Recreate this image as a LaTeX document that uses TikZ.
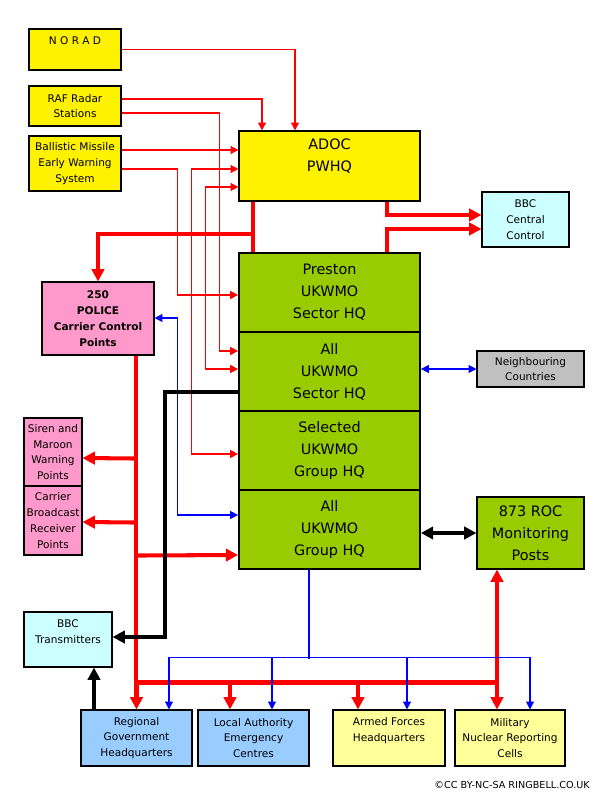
\documentclass[tikz,border=0pt]{standalone}
\usepackage{fontspec}
\setmainfont{DejaVu Sans}
\usetikzlibrary{calc,arrows.meta}

\begin{document}
\begin{tikzpicture}[x=0.02cm,y=-0.02cm]

% ---------- styles ----------
\tikzset{
  small/.style={align=center,font=\fontsize{6}{9}\selectfont},
  box/.style 2 args={draw=black,line width=0.6pt,inner sep=0pt,small,
    minimum width=#1*0.02cm,minimum height=#2*0.02cm},
  big/.style={align=center,font=\fontsize{8.2}{12.5}\selectfont},
  stack/.style={box={181}{79},big,fill=grn,line width=1pt},
  thinred/.style={draw=red,line width=0.7pt,-{Triangle[length=4.5pt,width=4.5pt]}},
  thinblue/.style={draw=blue,line width=0.7pt,-{Triangle[length=4.5pt,width=4.5pt]}},
  thickred/.style={draw=red,line width=2.3pt,-{Triangle[length=7pt,width=7pt]}},
  thickblack/.style={draw=black,line width=2.3pt,-{Triangle[length=7pt,width=7pt]}},
  plain/.style={arrows=-}
}
\definecolor{grn}{HTML}{99CC00}
\definecolor{pnk}{HTML}{FF99CC}
\definecolor{cyn}{HTML}{CCFFFF}
\definecolor{gry}{HTML}{C0C0C0}
\definecolor{blu}{HTML}{99CCFF}
\definecolor{pyl}{HTML}{FFFF99}

\useasboundingbox (0,0) rectangle (600,800);

% ---------- sources ----------
\node[box={92}{41},fill=yellow] (NORAD) at (75,49.5) {};
\node[anchor=north,small] (noradtxt) at ($(NORAD.north)+(0,2)$) {N O R A D};
\node[box={92}{40},fill=yellow] (RAF) at (75,106) {RAF Radar\\Stations};
\node[box={92}{55},fill=yellow] (BMEWS) at (75,163.5) {Ballistic Missile\\Early Warning\\System};

% ---------- centre column ----------
\node[box={181}{70},fill=yellow] (ADOC) at (329.5,166) {};
\node[anchor=north,big] (adoctxt) at ($(ADOC.north)+(0,2)$) {ADOC\\PWHQ};
\node[stack] (Preston) at (329.5,292.5) {Preston\\UKWMO\\Sector HQ};
\node[stack] (AllSec)  at (329.5,371.5) {All\\UKWMO\\Sector HQ};
\node[stack] (SelGrp)  at (329.5,450.5) {Selected\\UKWMO\\Group HQ};
\node[stack] (AllGrp)  at (329.5,529.5) {All\\UKWMO\\Group HQ};

% ---------- right ----------
\node[box={87}{55},fill=cyn] (BBCC) at (525.5,219.5) {BBC\\Central\\Control};
\node[box={107}{36},fill=gry] (Neigh) at (530.5,369) {Neighbouring\\Countries};
\node[box={107}{72},fill=grn,big] (ROC) at (530.5,533) {873 ROC\\Monitoring\\Posts};

% ---------- left ----------
\node[box={112}{73},fill=pnk,font=\fontsize{6}{9}\selectfont\bfseries] (Police) at (98,318.5) {250\\POLICE\\Carrier Control\\Points};
\node[box={58}{68},fill=pnk] (Siren) at (53,452) {Siren and\\Maroon\\Warning\\Points};
\node[box={58}{69},fill=pnk] (Carrier) at (53,520.5) {Carrier\\Broadcast\\Receiver\\Points};
\node[box={88}{55},fill=cyn] (BBCT) at (68,639.5) {};
\node[anchor=north,small] (bbcttxt) at ($(BBCT.north)+(0,2)$) {BBC\\Transmitters};

% ---------- bottom ----------
\node[box={111}{56},fill=blu] (Regional) at (136.5,738) {Regional\\Government\\Headquarters};
\node[box={111}{56},fill=blu] (Local) at (253.5,738) {Local Authority\\Emergency\\Centres};
\node[box={112}{56},fill=pyl] (Armed) at (389,738) {};
\node[anchor=north,small] (armedtxt) at ($(Armed.north)+(0,2)$) {Armed Forces\\Headquarters};
\node[box={110}{56},fill=pyl] (Military) at (510,738) {Military\\Nuclear Reporting\\Cells};

\node[anchor=south east,font=\fontsize{5.5}{7}\selectfont] (copy) at (596,795) {©CC BY-NC-SA RINGBELL.CO.UK};

% ---------- thin red ----------
\draw[thinred] (NORAD.east) -| ($(ADOC.north)+(-34.5,0)$);
\draw[thinred] ($(RAF.east)+(0,-7)$) -| ($(ADOC.north)+(-67.5,0)$);
\draw[thinred] ($(RAF.east)+(0,7)$) -| ($(AllSec.west)+(-19,-20.5)$) -- ($(AllSec.west)+(0,-20.5)$);
\draw[thinred] ($(BMEWS.east)+(0,-13.5)$) -- ($(ADOC.west)+(0,-16)$);
\draw[thinred] ($(BMEWS.east)+(0,5.5)$) -| ($(Preston.west)+(-61,2.5)$) -- ($(Preston.west)+(0,2.5)$);
\draw[thinred,{Triangle[length=4.5pt,width=4.5pt]}-{Triangle[length=4.5pt,width=4.5pt]}]
  ($(ADOC.west)+(0,3)$) -| ($(SelGrp.west)+(-47,3.5)$) -- ($(SelGrp.west)+(0,3.5)$);
\draw[thinred,{Triangle[length=4.5pt,width=4.5pt]}-{Triangle[length=4.5pt,width=4.5pt]}]
  ($(ADOC.west)+(0,21)$) -| ($(AllSec.west)+(-33,-2.5)$) -- ($(AllSec.west)+(0,-2.5)$);

% ---------- thick red ----------
\draw[thickred,plain] ($(ADOC.south)+(-76.5,0)$) -- ($(Preston.north)+(-76.5,0)$);
\draw[thickred] ($(ADOC.south)+(-76.5,32)$) -| (Police.north);
\draw[thickred] ($(ADOC.south)+(57.5,0)$) |- ($(BBCC.west)+(0,-4.5)$);
\draw[thickred] ($(Preston.north)+(57.5,0)$) |- ($(BBCC.west)+(0,9.5)$);
\draw[thickred,plain] ($(Police.south)+(38,0)$) |- ($(Military.north)+(-13,-27)$);
\draw[thickred] ($(Police.south)+(38,103)$) -- ($(Siren.east)+(0,6)$);
\draw[thickred] ($(Police.south)+(38,167)$) -- ($(Carrier.east)+(0,1.5)$);
\draw[thickred] ($(Police.south)+(38,200)$) -- ($(AllGrp.west)+(0,25.5)$);
\foreach \n/\dx in {Regional/0,Local/-23.5,Armed/-31}
  \draw[thickred] ($(\n.north)+(\dx,-27)$) -- ($(\n.north)+(\dx,0)$);
\draw[thickred,{Triangle[length=7pt,width=7pt]}-{Triangle[length=7pt,width=7pt]}]
  ($(ROC.south)+(-33.5,0)$) -- ($(Military.north)+(-13,0)$);

% ---------- blue ----------
\draw[thinblue,{Triangle[length=4.5pt,width=4.5pt]}-{Triangle[length=4.5pt,width=4.5pt]}]
  ($(Police.east)+(0,-0.5)$) -| ($(AllGrp.west)+(-61,-14.5)$) -- ($(AllGrp.west)+(0,-14.5)$);
\draw[thinblue,{Triangle[length=4.5pt,width=4.5pt]}-{Triangle[length=4.5pt,width=4.5pt]}]
  (AllSec.east |- Neigh.west) -- (Neigh.west);
\draw[thinblue,plain] ($(AllGrp.south)+(-20.5,0)$) -- ($(AllGrp.south)+(-20.5,89)$);
\draw[thinblue,plain] ($(Regional.north)+(32.5,-52)$) -- ($(Military.north)+(20,-52)$);
\foreach \n/\dx in {Regional/32.5,Local/18.5,Armed/18,Military/20}
  \draw[thinblue] ($(\n.north)+(\dx,-52)$) -- ($(\n.north)+(\dx,0)$);

% ---------- black ----------
\draw[thickblack] ($(AllSec.west)+(0,20.5)$) -| ($(BBCT.east)+(52,-2.5)$) -- ($(BBCT.east)+(0,-2.5)$);
\draw[thickblack] ($(Regional.north)+(-42.5,0)$) -- ($(BBCT.south)+(26,0)$);
\draw[thickblack,{Triangle[length=7pt,width=7pt]}-{Triangle[length=7pt,width=7pt]}]
  (AllGrp.east |- ROC.west) -- (ROC.west);

\end{tikzpicture}
\end{document}
